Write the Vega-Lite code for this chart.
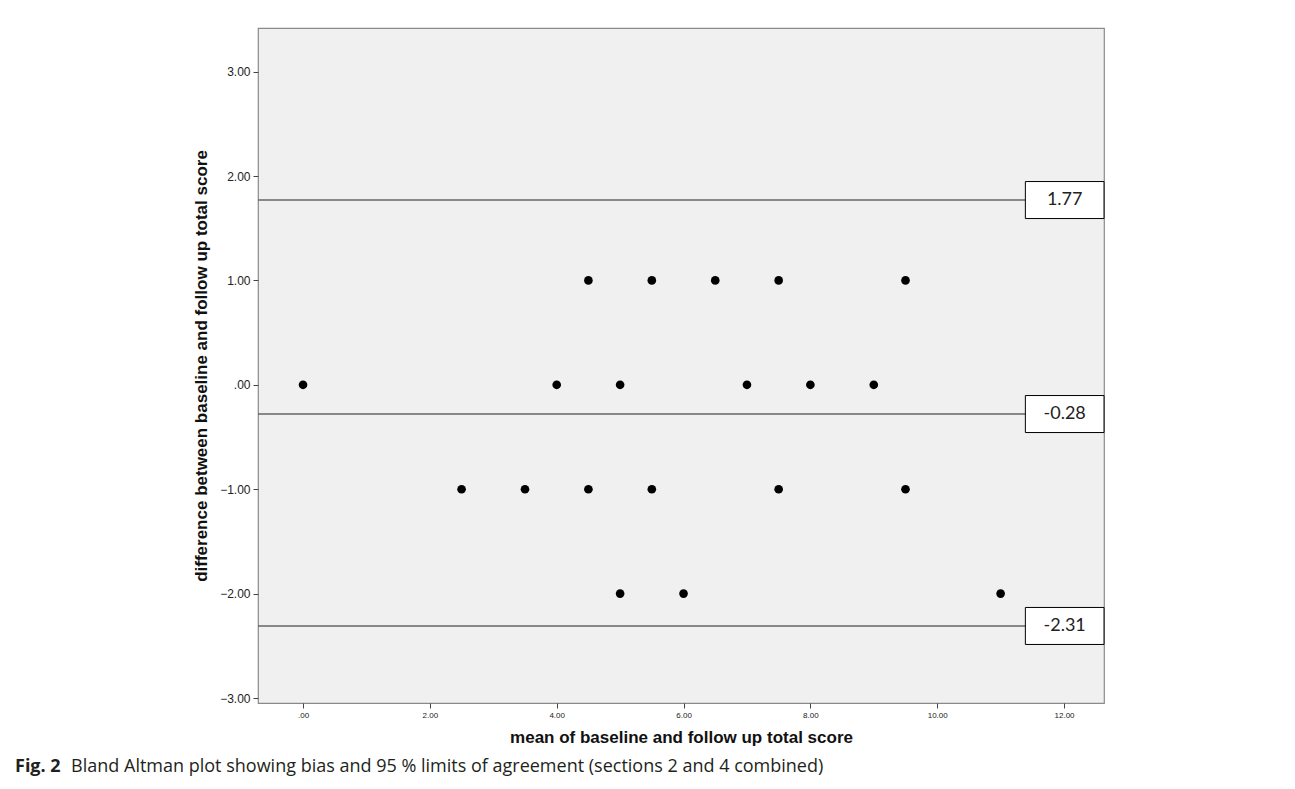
{
  "$schema": "https://vega.github.io/schema/vega-lite/v6.json",
  "width": 846,
  "height": 675,
  "autosize": {"type": "none"},
  "padding": {"left": 258, "top": 28, "right": 191, "bottom": 86},
  "background": "white",
  "config": {
    "view": {"fill": "#f0f0f0", "stroke": "#8a8a8a", "strokeWidth": 1.2},
    "axis": {"grid": false, "domain": false, "tickColor": "#444", "tickSize": 5, "labelColor": "#222", "titleColor": "#111", "labelFont": "Liberation Sans", "titleFont": "Liberation Sans"}
  },
  "title": {
    "text": "Fig. 2",
    "subtitle": "\u200b\u00a0\u00a0\u00a0\u00a0\u00a0\u00a0\u00a0\u00a0\u00a0\u00a0\u00a0\u00a0Bland Altman plot showing bias and 95 % limits of agreement (sections 2 and 4 combined)",
    "orient": "bottom",
    "anchor": "start",
    "frame": "group",
    "dx": -243,
    "offset": 13,
    "font": "Open Sans",
    "fontSize": 18,
    "fontWeight": "bold",
    "color": "#231f20",
    "subtitleFont": "Open Sans",
    "subtitleFontSize": 18,
    "subtitleFontWeight": "normal",
    "subtitleColor": "#231f20",
    "subtitlePadding": -18
  },
  "datasets": {
    "points": [
      {"mean": 0, "diff": 0},
      {"mean": 4, "diff": 0},
      {"mean": 5, "diff": 0},
      {"mean": 7, "diff": 0},
      {"mean": 8, "diff": 0},
      {"mean": 9, "diff": 0},
      {"mean": 4.5, "diff": 1},
      {"mean": 5.5, "diff": 1},
      {"mean": 6.5, "diff": 1},
      {"mean": 7.5, "diff": 1},
      {"mean": 9.5, "diff": 1},
      {"mean": 2.5, "diff": -1},
      {"mean": 3.5, "diff": -1},
      {"mean": 4.5, "diff": -1},
      {"mean": 5.5, "diff": -1},
      {"mean": 7.5, "diff": -1},
      {"mean": 9.5, "diff": -1},
      {"mean": 5, "diff": -2},
      {"mean": 6, "diff": -2},
      {"mean": 11, "diff": -2}
    ],
    "limits": [
      {"value": 1.77, "label": "1.77"},
      {"value": -0.28, "label": "-0.28"},
      {"value": -2.31, "label": "-2.31"}
    ]
  },
  "layer": [
    {
      "data": {"name": "limits"},
      "mark": {"type": "rule", "color": "#666666", "strokeWidth": 1.5},
      "encoding": {
        "y": {"field": "value", "type": "quantitative", "scale": {"domain": [-3, 3.37], "nice": false, "zero": false}}
      }
    },
    {
      "data": {"name": "points"},
      "mark": {"type": "point", "filled": true, "color": "black", "opacity": 1, "size": 75},
      "encoding": {
        "x": {
          "field": "mean", "type": "quantitative",
          "scale": {"domain": [-0.71, 12.63], "nice": false, "zero": false},
          "axis": {
            "title": "mean of baseline and follow up total score",
            "titleFontSize": 17, "titleFontWeight": "bold", "titlePadding": 10,
            "values": [0, 2, 4, 6, 8, 10, 12],
            "labelFontSize": 8, "labelPadding": 3,
            "labelExpr": "datum.value == 0 ? '.00' : format(datum.value, '.2f')"
          }
        },
        "y": {
          "field": "diff", "type": "quantitative",
          "scale": {"domain": [-3, 3.37], "nice": false, "zero": false},
          "axis": {
            "title": "difference between baseline and follow up total score",
            "titleFontSize": 17, "titleFontWeight": "bold", "titlePadding": 9,
            "values": [-3, -2, -1, 0, 1, 2, 3],
            "labelFontSize": 12, "labelPadding": 3,
            "labelExpr": "datum.value == 0 ? '.00' : format(datum.value, '.2f')"
          }
        }
      }
    },
    {
      "data": {"name": "limits"},
      "mark": {"type": "bar", "orient": "horizontal", "size": 37, "fill": "white", "stroke": "black", "strokeWidth": 1},
      "encoding": {
        "x": {"datum": 11.39, "type": "quantitative", "scale": {"domain": [-0.71, 12.63], "nice": false, "zero": false}},
        "x2": {"datum": 12.63},
        "y": {"field": "value", "type": "quantitative", "scale": {"domain": [-3, 3.37], "nice": false, "zero": false}}
      }
    },
    {
      "data": {"name": "limits"},
      "mark": {"type": "text", "font": "Lato", "fontSize": 18, "color": "#222", "align": "center", "baseline": "middle"},
      "encoding": {
        "x": {"datum": 12.01, "type": "quantitative", "scale": {"domain": [-0.71, 12.63], "nice": false, "zero": false}},
        "y": {"field": "value", "type": "quantitative", "scale": {"domain": [-3, 3.37], "nice": false, "zero": false}},
        "text": {"field": "label"}
      }
    }
  ]
}
